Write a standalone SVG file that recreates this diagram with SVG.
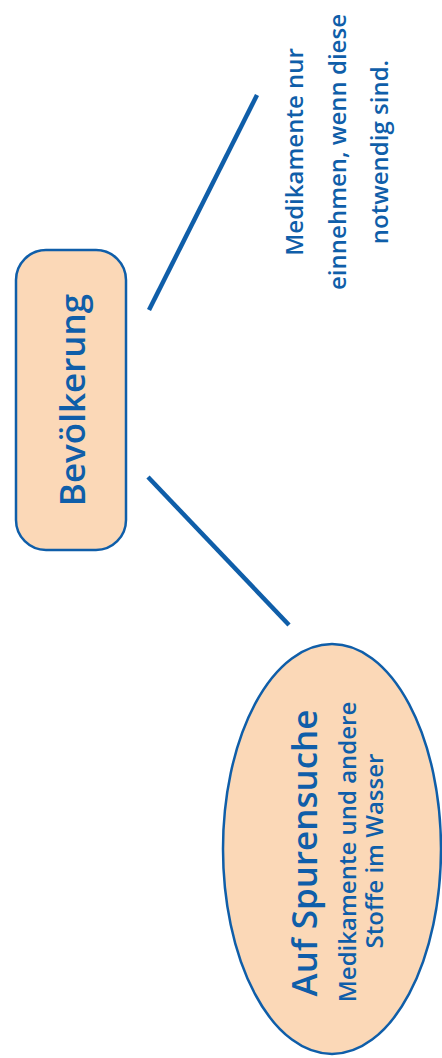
<svg xmlns="http://www.w3.org/2000/svg" width="442" height="1058" viewBox="0 0 442 1058">
<style>
.node{fill:#fbd8b7;stroke:#0f5ea9;stroke-width:2.5}
.t{font-family:"Open Sans","Liberation Sans",sans-serif;fill:#0f5ea9;text-anchor:middle;font-weight:600}
.title{font-size:35px}
.small{font-size:24px}
.conn{stroke:#0f5ea9;stroke-width:4.5;fill:none}
</style>
<rect width="442" height="1058" fill="#ffffff"/>
<g id="connectors">
<line class="conn" x1="257" y1="95" x2="149" y2="310"/>
<line class="conn" x1="148" y1="477" x2="289" y2="625"/>
</g>
<g id="node-bevoelkerung">
<rect class="node" x="16" y="250" width="110" height="300" rx="30" ry="30"/>
<text class="t title" transform="translate(85,400) rotate(-90)">Bevölkerung</text>
</g>
<g id="node-spurensuche">
<ellipse class="node" cx="332" cy="849" rx="109" ry="205"/>
<text class="t title" transform="translate(317,853) rotate(-90)">Auf Spurensuche</text>
<text class="t small" transform="translate(356,852) rotate(-90)">Medikamente und andere</text>
<text class="t small" transform="translate(383,851) rotate(-90)">Stoffe im Wasser</text>
</g>
<g id="node-medikamente">
<text class="t small" transform="translate(303,152) rotate(-90)">Medikamente nur</text>
<text class="t small" transform="translate(346,152) rotate(-90)">einnehmen, wenn diese</text>
<text class="t small" transform="translate(388,152) rotate(-90)">notwendig sind.</text>
</g>
</svg>
